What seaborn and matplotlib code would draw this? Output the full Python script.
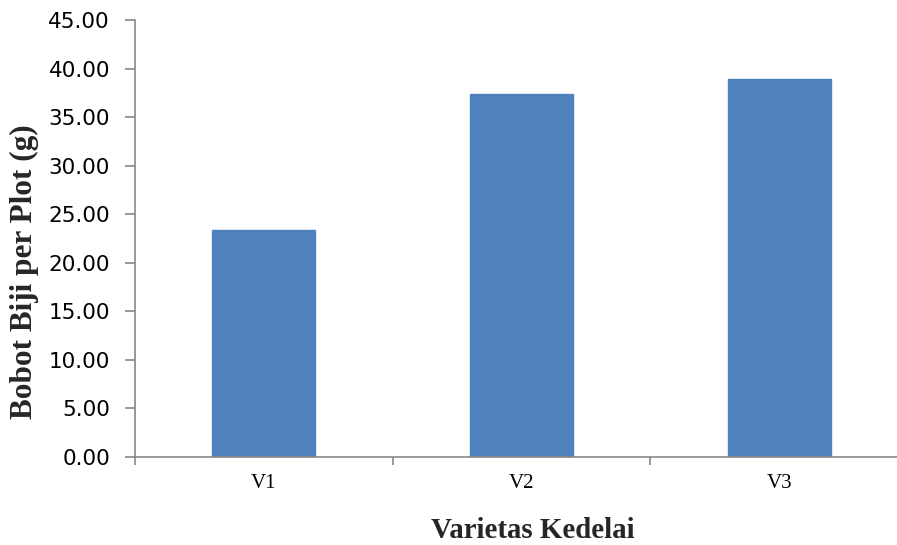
import matplotlib
matplotlib.use("Agg")
import matplotlib.pyplot as plt
import seaborn as sns
import pandas as pd
from matplotlib.ticker import FixedLocator, NullFormatter

categories = ["V1", "V2", "V3"]
values = [23.38, 37.38, 38.93]
yticks = [0, 5, 10, 15, 20, 25, 30, 35, 40, 45]

df = pd.DataFrame({"Varietas": categories, "Bobot": values})

sns.set_theme(style="white")
W, H = 897, 545
fig = plt.figure(figsize=(W / 100, H / 100), dpi=100)
left, right, top, bottom = 135, 908, 20, 457
ax = fig.add_axes([left / W, 1 - bottom / H, (right - left) / W, (bottom - top) / H])

sns.barplot(data=df, x="Varietas", y="Bobot", color="#4F81BD", width=0.4,
            saturation=1, ax=ax, edgecolor="#4F81BD")

axis_col = "#878787"
ax.set_xlim(-0.5, 2.5)
ax.set_ylim(0, 45)
ax.set_yticks(yticks)
ax.set_yticklabels([f"{v:.2f}" for v in yticks], family="DejaVu Sans", fontsize=15.5, color="black")
ax.set_xticks(range(len(categories)))
ax.set_xticklabels(categories, family="Liberation Serif", fontsize=15, color="black")
ax.tick_params(axis="x", which="major", length=0, pad=12)
ax.xaxis.set_minor_locator(FixedLocator([-0.5, 0.5, 1.5, 2.5]))
ax.xaxis.set_minor_formatter(NullFormatter())
ax.tick_params(axis="x", which="minor", length=6, width=1.2, color=axis_col, direction="out", bottom=True)
ax.tick_params(axis="y", length=7, width=1.2, color=axis_col, direction="out", left=True, pad=11)

for s in ["top", "right"]:
    ax.spines[s].set_visible(False)
for s in ["left", "bottom"]:
    ax.spines[s].set_color(axis_col)
    ax.spines[s].set_linewidth(1.2)

ax.set_xlabel("")
ax.set_ylabel("")
fig.text(533 / W, 1 - 531 / H, "Varietas Kedelai", family="Liberation Serif",
         fontweight="bold", fontsize=20.8, ha="center", va="center")
fig.text(24 / W, 1 - 272 / H, "Bobot Biji per Plot (g)", family="Liberation Serif",
         fontweight="bold", fontsize=22.5, ha="center", va="center", rotation=90)

fig.savefig("out.png", dpi=100)
